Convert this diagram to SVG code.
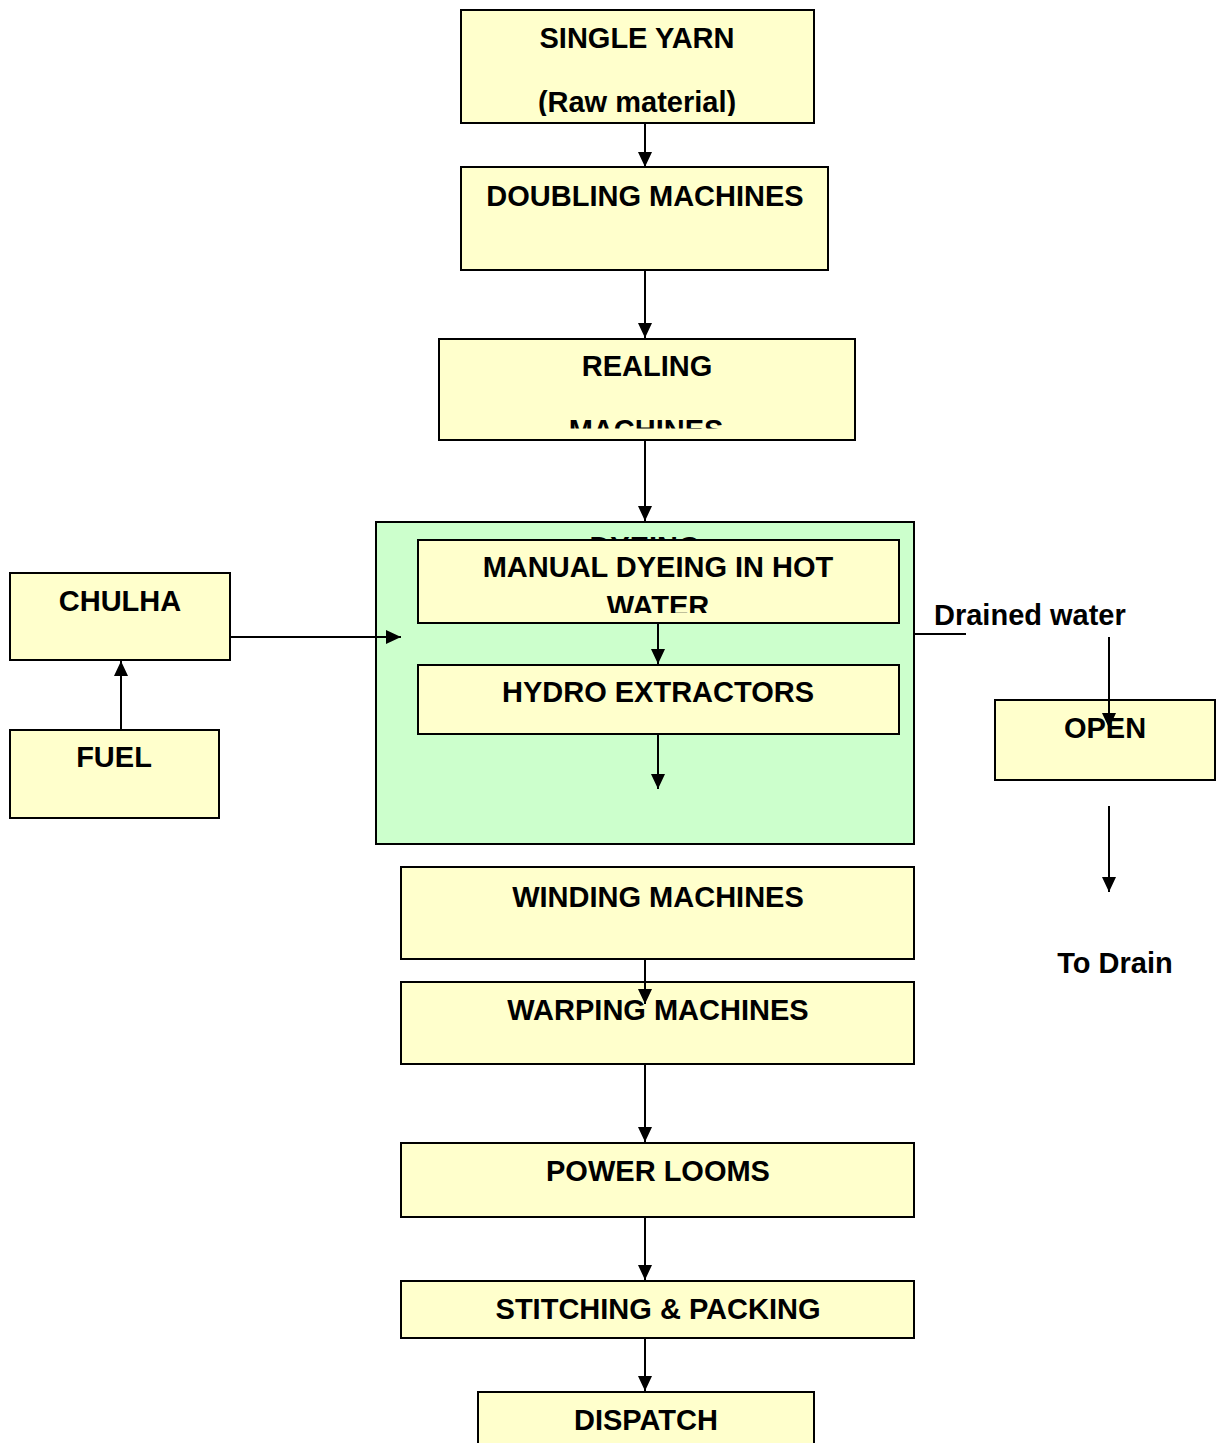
<svg xmlns="http://www.w3.org/2000/svg" width="1216" height="1443" viewBox="0 0 1216 1443">
<style>
.box{fill:#FFFFCC;stroke:#000;stroke-width:2}
.green{fill:#CCFFCC;stroke:#000;stroke-width:2}
.t{font-family:"Liberation Sans",Arial,sans-serif;font-weight:bold;font-size:29px;fill:#000;text-anchor:middle}
.tl{font-family:"Liberation Sans",Arial,sans-serif;font-weight:bold;font-size:29px;fill:#000}
.c{stroke:#000;stroke-width:2;fill:none}
</style>
<defs>
<marker id="ah" markerUnits="userSpaceOnUse" markerWidth="16" markerHeight="16" viewBox="0 0 16 16" refX="15" refY="8" orient="auto">
<path d="M0,1 L15,8 L0,15 Z" fill="#000"/>
</marker>
<clipPath id="clipRaw"><rect x="461" y="10" width="353" height="106"/></clipPath>
<clipPath id="clipReal"><rect x="439" y="339" width="416" height="89.5"/></clipPath>
<clipPath id="clipWater"><rect x="418" y="540" width="481" height="73"/></clipPath>
<clipPath id="clipDye"><rect x="376" y="522" width="538" height="17"/></clipPath>
</defs>
<rect width="1216" height="1443" fill="#fff"/>
<g id="single-yarn">
<rect class="box" x="461" y="10" width="353" height="113"/>
<text class="t" x="637" y="48">SINGLE YARN</text>
<text class="t" x="637" y="112" clip-path="url(#clipRaw)">(Raw material)</text>
</g>
<g id="doubling">
<rect class="box" x="461" y="167" width="367" height="103"/>
<text class="t" x="645" y="206">DOUBLING MACHINES</text>
</g>
<g id="realing">
<rect class="box" x="439" y="339" width="416" height="101"/>
<text class="t" x="647" y="376">REALING</text>
<text class="t" x="646" y="440" clip-path="url(#clipReal)">MACHINES</text>
</g>
<g id="dyeing">
<rect class="green" x="376" y="522" width="538" height="322"/>
<text class="t" x="645" y="557" clip-path="url(#clipDye)">DYEING</text>
</g>
<g id="manual-dyeing">
<rect class="box" x="418" y="540" width="481" height="83"/>
<text class="t" x="658" y="577">MANUAL DYEING IN HOT</text>
<text class="t" x="658" y="616" clip-path="url(#clipWater)">WATER</text>
</g>
<g id="hydro">
<rect class="box" x="418" y="665" width="481" height="69"/>
<text class="t" x="658" y="702">HYDRO EXTRACTORS</text>
</g>
<g id="chulha">
<rect class="box" x="10" y="573" width="220" height="87"/>
<text class="t" x="120" y="611">CHULHA</text>
</g>
<g id="fuel">
<rect class="box" x="10" y="730" width="209" height="88"/>
<text class="t" x="114" y="767">FUEL</text>
</g>
<g id="drained-water">
<text class="tl" x="934" y="625">Drained water</text>
</g>
<g id="open">
<rect class="box" x="995" y="700" width="220" height="80"/>
<text class="t" x="1105" y="738">OPEN</text>
</g>
<g id="to-drain">
<text class="t" x="1115" y="973">To Drain</text>
</g>
<g id="winding">
<rect class="box" x="401" y="867" width="513" height="92"/>
<text class="t" x="658" y="907">WINDING MACHINES</text>
</g>
<g id="warping">
<rect class="box" x="401" y="982" width="513" height="82"/>
<text class="t" x="658" y="1020">WARPING MACHINES</text>
</g>
<g id="power-looms">
<rect class="box" x="401" y="1143" width="513" height="74"/>
<text class="t" x="658" y="1181">POWER LOOMS</text>
</g>
<g id="stitching">
<rect class="box" x="401" y="1281" width="513" height="57"/>
<text class="t" x="658" y="1319">STITCHING &amp; PACKING</text>
</g>
<g id="dispatch">
<rect class="box" x="478" y="1392" width="336" height="60"/>
<text class="t" x="646" y="1430">DISPATCH</text>
</g>
<g id="connectors">
<line class="c" x1="645" y1="123" x2="645" y2="167" marker-end="url(#ah)"/>
<line class="c" x1="645" y1="270" x2="645" y2="338" marker-end="url(#ah)"/>
<line class="c" x1="645" y1="440" x2="645" y2="521" marker-end="url(#ah)"/>
<line class="c" x1="230" y1="637" x2="401" y2="637" marker-end="url(#ah)"/>
<line class="c" x1="121" y1="730" x2="121" y2="661" marker-end="url(#ah)"/>
<line class="c" x1="658" y1="623" x2="658" y2="664" marker-end="url(#ah)"/>
<line class="c" x1="658" y1="734" x2="658" y2="789" marker-end="url(#ah)"/>
<line class="c" x1="914" y1="634" x2="966" y2="634"/>
<line class="c" x1="1109" y1="637" x2="1109" y2="728" marker-end="url(#ah)"/>
<line class="c" x1="1109" y1="806" x2="1109" y2="892" marker-end="url(#ah)"/>
<line class="c" x1="645" y1="959" x2="645" y2="1004" marker-end="url(#ah)"/>
<line class="c" x1="645" y1="1064" x2="645" y2="1142" marker-end="url(#ah)"/>
<line class="c" x1="645" y1="1217" x2="645" y2="1280" marker-end="url(#ah)"/>
<line class="c" x1="645" y1="1338" x2="645" y2="1391" marker-end="url(#ah)"/>
</g>
</svg>
